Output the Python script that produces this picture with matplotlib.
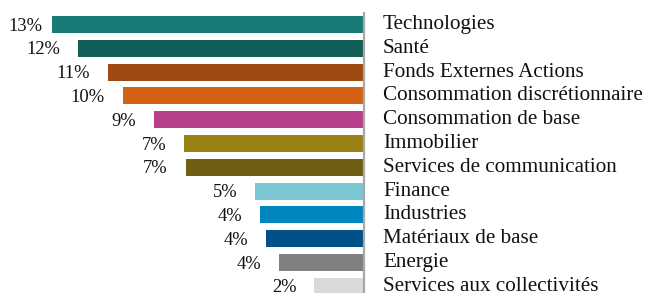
import numpy as np
import matplotlib
matplotlib.use('Agg')
import matplotlib.pyplot as plt
import matplotlib.transforms as mtransforms

sectors = ['Technologies', 'Santé', 'Fonds Externes Actions', 'Consommation discrétionnaire',
           'Consommation de base', 'Immobilier', 'Services de communication', 'Finance',
           'Industries', 'Matériaux de base', 'Energie', 'Services aux collectivités']
weights = [13.2, 12.1, 10.85, 10.2, 8.9, 7.6, 7.55, 4.6, 4.4, 4.15, 3.6, 2.1]
labels = ['13%', '12%', '11%', '10%', '9%', '7%', '7%', '5%', '4%', '4%', '4%', '2%']
colors = ['#1a7b76', '#135f58', '#9e4a10', '#d46215', '#b83f8a', '#9a8217',
          '#6f5f12', '#7bc7d4', '#0086bf', '#005189', '#808080', '#d8d9db']

W, H, DPI = 647, 293, 100
fig = plt.figure(figsize=(W / DPI, H / DPI), dpi=DPI)
ax = fig.add_axes([0, 0, 364 / W, 1])

y = np.arange(len(sectors))
ax.barh(y, weights, height=0.71, color=colors, left=0)

ax.set_xlim(15.4, 0)
ax.set_ylim(11.28, -1.03)
ax.axis('off')

# separator line
ax.vlines(0, -0.53, 11.4, color='#a8a8a8', lw=1.6, clip_on=False)

right = mtransforms.offset_copy(ax.transData, fig=fig, x=19, y=0, units='dots')
for i, name in enumerate(sectors):
	ax.text(0, i, name, transform=right, ha='left', va='center',
	        family='Liberation Serif', fontsize=15.2, color='#111111', clip_on=False)

# percent labels: right edge 18px left of bar end, but not closer than 42px to the figure edge
for i, lab in enumerate(labels):
	px, py = ax.transData.transform((weights[i], i))
	xr = max(px - 18, 42)
	fig.text(xr / W, (py - 1.5) / H, lab, ha='right', va='center',
	         family='Liberation Serif', fontsize=13.3, color='#111111')

fig.savefig('out.png', dpi=DPI)
